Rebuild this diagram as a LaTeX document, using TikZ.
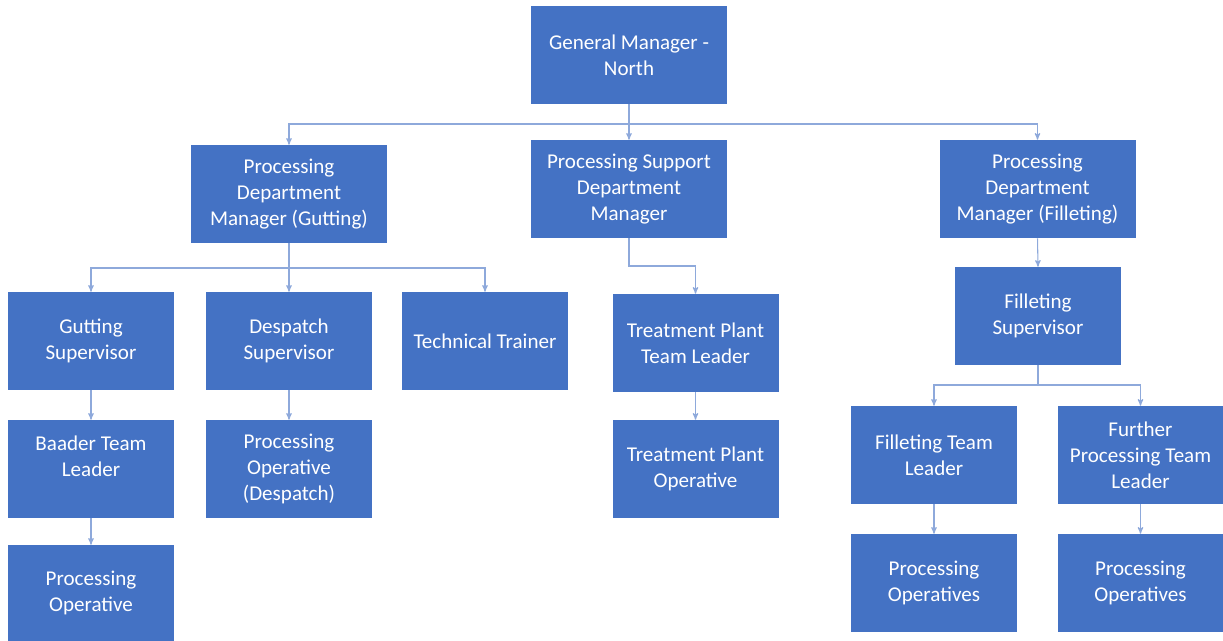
\documentclass[tikz,border=0pt]{standalone}
\usepackage{fontspec}
\setmainfont{Carlito}
\usepackage{tikz}
\usetikzlibrary{arrows,positioning}
\definecolor{boxblue}{HTML}{4472C4}
\definecolor{linkblue}{HTML}{8EA9DB}

\begin{document}
\begin{tikzpicture}[x=0.75pt,y=-0.75pt,>=stealth',
		every node/.style={font=\fontsize{15.8}{19.5}\selectfont},
		box/.style={fill=boxblue,text=white,align=center,inner sep=2pt,minimum width=124.5pt,minimum height=73.5pt},
		widebox/.style={box,minimum width=147pt},
		link/.style={->,draw=linkblue,line width=0.8pt}]
		\useasboundingbox (0,0) rectangle (1223,641);

		\node[widebox] (gm) at (629,55) {General Manager -\\North};
		\node[widebox] (pdmg) at (289,194) {Processing\\Department\\Manager (Gutting)};
		\node[widebox] (psdm) at (629,189) {Processing Support\\Department\\Manager};
		\node[widebox] (pdmf) at (1037.5,189) {Processing\\Department\\Manager (Filleting)};

		\node[box] (gsup) at (91,341) {Gutting\\Supervisor};
		\node[box] (dsup) at (289,341) {Despatch\\Supervisor};
		\node[box] (ttr) at (485,341) {Technical Trainer};
		\node[box] (tptl) at (695.5,343) {Treatment Plant\\Team Leader};
		\node[box] (fsup) at (1038,316) {Filleting\\Supervisor};

		\node[box] (btl) at (91,469) {Baader Team\\Leader\\\mbox{}};
		\node[box] (pod) at (289,469) {Processing\\Operative\\(Despatch)};
		\node[box] (tpo) at (695.5,469) {Treatment Plant\\Operative};
		\node[box] (ftl) at (934,455) {Filleting Team\\Leader};
		\node[box] (fptl) at (1140.5,455) {Further\\Processing Team\\Leader};

		\node[box,minimum height=72pt] (po) at (91,593) {Processing\\Operative};
		\node[box] (pos1) at (934,583) {Processing\\Operatives};
		\node[box] (pos2) at (1140.5,583) {Processing\\Operatives};

		\coordinate (busgm) at (629,124);
		\coordinate (busg) at (289,268);
		\coordinate (buss) at (629,266);
		\coordinate (busf) at (1038,385);

		\draw[link] (gm.south) -- (gm.south |- busgm) -| (pdmg.north);
		\draw[link] (gm.south) -- (psdm.north);
		\draw[link] (gm.south) -- (gm.south |- busgm) -| (pdmf.north);
		\draw[link] (pdmg.south) -- (pdmg.south |- busg) -| (gsup.north);
		\draw[link] (pdmg.south) -- (dsup.north);
		\draw[link] (pdmg.south) -- (pdmg.south |- busg) -| (ttr.north);
		\draw[link] (psdm.south) -- (psdm.south |- buss) -| (tptl.north);
		\draw[link] (pdmf.south) -- (fsup.north);
		\draw[link] (fsup.south) -- (fsup.south |- busf) -| (ftl.north);
		\draw[link] (fsup.south) -- (fsup.south |- busf) -| (fptl.north);
		\draw[link] (gsup) -- (btl);
		\draw[link] (btl) -- (po);
		\draw[link] (dsup) -- (pod);
		\draw[link] (tptl) -- (tpo);
		\draw[link] (ftl) -- (pos1);
		\draw[link] (fptl) -- (pos2);
	\end{tikzpicture}
\end{document}
